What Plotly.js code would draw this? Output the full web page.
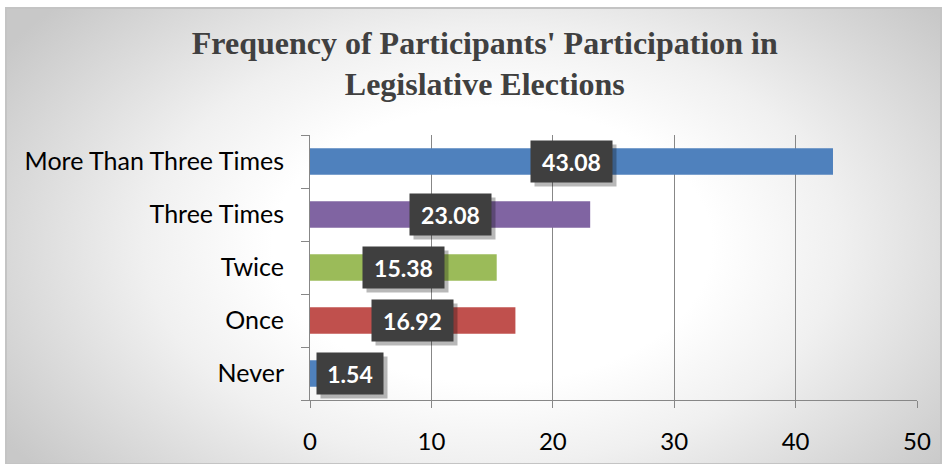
<!DOCTYPE html>
<html>
<head>
<meta charset="utf-8">
<script src="https://cdn.plot.ly/plotly-3.0.1.min.js"></script>
<style>
  html, body { margin:0; padding:0; width:945px; height:464px; overflow:hidden; background:#ffffff; }
  #frame { position:absolute; left:5px; top:7px; width:933px; height:454px;
           border:2px solid #c4c4c4;
           background: radial-gradient(ellipse 62% 80% at 52% 52%, #ffffff 38%, #f0f0f0 60%, #c8c8c8 100%); }
  #chart { position:absolute; left:0; top:0; width:945px; height:464px; }
</style>
</head>
<body>
<div id="frame"></div>
<div id="chart"></div>
<script>
const categories = ['Never', 'Once', 'Twice', 'Three Times', 'More Than Three Times'];
const values = [1.54, 16.92, 15.38, 23.08, 43.08];
const barColors = ['#4F81BD', '#C0504D', '#9BBB59', '#8064A2', '#4F81BD'];
const xTicks = [0, 10, 20, 30, 40, 50];
const titleText = "Frequency of Participants' Participation in<br>Legislative Elections";

const gridGrey = '#878787';
const labelFont = 'Lato, Calibri, Carlito, sans-serif';

const trace = {
  type: 'bar',
  orientation: 'h',
  y: categories,
  x: values,
  width: 0.5,
  marker: { color: barColors },
  hoverinfo: 'none',
  showlegend: false
};

const annotations = [];
values.forEach((v, i) => {
  const txt = v.toFixed(2);
  const small = v < 5;
  const boxW = 15 * txt.length - 6;
  const base = {
    x: small ? 0 : v / 2,
    y: categories[i],
    xref: 'x', yref: 'y',
    xanchor: small ? 'left' : 'center',
    yanchor: 'middle',
    showarrow: false,
    width: boxW,
    height: 29,
    borderpad: 6
  };
  // drop shadow box (no text)
  annotations.push(Object.assign({}, base, {
    text: '&nbsp;',
    xshift: (small ? 6 : 0) + 4,
    yshift: -4,
    bgcolor: 'rgba(0,0,0,0.28)',
    font: { family: labelFont, size: 23, color: 'rgba(0,0,0,0)' }
  }));
  // label box
  annotations.push(Object.assign({}, base, {
    text: txt,
    xshift: small ? 6 : 0,
    bgcolor: '#3f3f3f',
    font: { family: labelFont, size: 23, color: '#ffffff', weight: 'bold' }
  }));
});

const layout = {
  width: 945,
  height: 464,
  paper_bgcolor: 'rgba(0,0,0,0)',
  plot_bgcolor: 'rgba(0,0,0,0)',
  margin: { l: 310, r: 28, t: 135, b: 64 },
  title: {
    text: titleText,
    font: { family: '"Liberation Serif", "Times New Roman", serif', size: 32, color: '#404040', weight: 'bold' },
    x: 0.513, xanchor: 'center', xref: 'container',
    y: 0.884, yanchor: 'top', yref: 'container'
  },
  xaxis: {
    range: [0, 50],
    tickvals: xTicks,
    ticktext: xTicks.map(String),
    showgrid: true, gridcolor: gridGrey, gridwidth: 1,
    zeroline: false,
    showline: true, linecolor: gridGrey, linewidth: 1,
    ticks: 'outside', ticklen: 7, tickcolor: gridGrey,
    tickfont: { family: labelFont, size: 24, color: '#000000' },
    ticklabelstandoff: 13,
    fixedrange: true
  },
  yaxis: {
    type: 'category',
    categoryorder: 'array',
    categoryarray: categories,
    showgrid: false,
    zeroline: false,
    showline: true, linecolor: gridGrey, linewidth: 1,
    ticks: 'outside', ticklen: 8, tickcolor: gridGrey,
    tickson: 'boundaries',
    tickfont: { family: labelFont, size: 25, color: '#000000' },
    ticklabelstandoff: 20,
    fixedrange: true
  },
  annotations: annotations,
  bargap: 0.5
};

Plotly.newPlot('chart', [trace], layout, { displayModeBar: false, staticPlot: true });
</script>
</body>
</html>
